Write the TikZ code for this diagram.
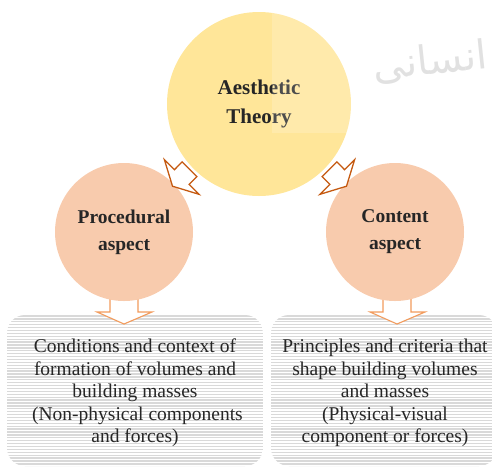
\documentclass[tikz,border=0pt]{standalone}
\usepackage{fontspec}
\setmainfont{Liberation Serif}
\newfontfamily\arabicfont[Script=Arabic]{DejaVu Sans}
\TeXXeTstate=1
\definecolor{gold}{HTML}{FFE699}
\definecolor{peach}{HTML}{F8CBAD}
\definecolor{darkor}{HTML}{C55A11}
\definecolor{lightor}{HTML}{F29B5C}
\definecolor{stripec}{HTML}{D9D9D9}
\definecolor{txt}{HTML}{262626}
\tikzset{
  bigcirc/.style={circle, fill=gold, minimum size=184pt, inner sep=0pt, text=txt, align=center,
    font=\bfseries\fontsize{21}{29}\selectfont},
  smallcirc/.style={circle, fill=peach, minimum size=138pt, inner sep=0pt, text=txt, align=center,
    font=\bfseries\fontsize{19.5}{27}\selectfont},
  stripebox/.style={rectangle, rounded corners=18pt, inner sep=0pt,
    path picture={\foreach \k in {0,...,52}{\draw[stripec, line width=1.3pt]
      ([yshift=-\k*2.9pt-1pt]path picture bounding box.north west) --
      ([yshift=-\k*2.9pt-1pt]path picture bounding box.north east);}}},
  boxtext/.style={align=center, text=txt, font=\fontsize{19.5}{22.5}\selectfont, inner sep=0pt},
  diagarrow/.style={draw=darkor, fill=white, line width=1.3pt, line join=miter},
  downarrow/.style={draw=lightor, fill=white, line width=1.1pt, line join=miter}
}
\begin{document}
\begin{tikzpicture}[x=1pt,y=-1pt]
\useasboundingbox (0,0) rectangle (492,467);
% watermark
\node[text=black!14, font=\arabicfont\fontsize{40}{40}\selectfont, rotate=6] (wm) at (430,62) {\beginR انسانی\endR};
% boxes
\node[stripebox, minimum width=256pt, minimum height=151pt] (lbox) at (135,390.5) {};
\node[stripebox, minimum width=226pt, minimum height=151pt] (rbox) at (384,390.5) {};
\node[boxtext, yshift=-2.5pt] (ltext) at (lbox) {Conditions and context of\\formation of volumes and\\building masses\\\ (Non-physical components\\and forces)};
\node[boxtext, yshift=-2.5pt] (rtext) at ([xshift=1pt]rbox.center) {Principles and criteria that\\shape building volumes\\and masses\\(Physical-visual\\component or forces)};
% down arrows
\draw[downarrow] (110,296) -- (110,312) -- (97,312) -- (124,324) -- (152,312) -- (138,312) -- (138,296) -- cycle;
\draw[downarrow] (383,296) -- (383,312) -- (370,312) -- (397,324) -- (425,312) -- (411,312) -- (411,296) -- cycle;
% circles
\node[bigcirc] (aes) at (259,104) {Aesthetic\\Theory};
\fill[white, opacity=0.18] (272,0) rectangle (492,133);
\node[smallcirc] (proc) at (124,232) {Procedural\\aspect};
\node[smallcirc] (cont) at (395,232) {Content\\aspect};
% diagonal arrows
\draw[diagarrow] (182.1,161.9) -- (196.9,176.6) -- (189.1,184.4) -- (199.0,194.3) -- (172.5,186.2) -- (164.4,159.7) -- (174.4,169.7) -- cycle;
\draw[diagarrow] (336.9,161.9) -- (322.1,176.6) -- (329.9,184.4) -- (320.0,194.3) -- (346.5,186.2) -- (354.6,159.7) -- (344.6,169.7) -- cycle;
\end{tikzpicture}
\end{document}
